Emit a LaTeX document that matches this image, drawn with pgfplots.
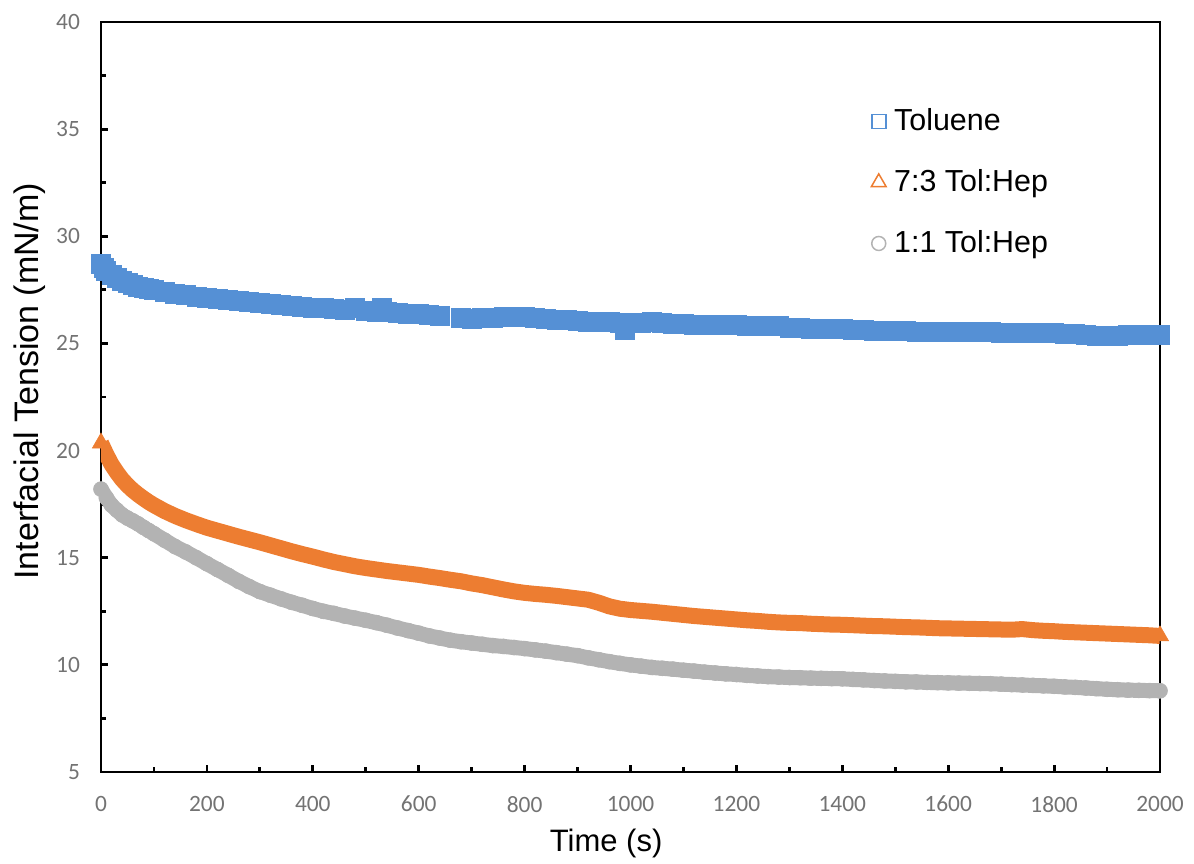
\documentclass[border=0pt]{standalone}
\usepackage{fontspec}
\setmainfont{Liberation Sans}
\newfontfamily\tickfont{Carlito}
\usepackage{pgfplots}
\usepackage{pgfplotstable}
\pgfplotsset{compat=1.18}

\definecolor{tolblue}{HTML}{5590D5}
\definecolor{heporange}{HTML}{ED7D31}
\definecolor{hepgray}{HTML}{B3B3B3}
\definecolor{tickgray}{HTML}{737373}

% Interfacial tension (mN/m) against time (s)
\pgfplotstableread{
t ift
0 28.70
5 28.55
10 28.40
20 28.20
30 28.05
40 27.92
50 27.82
60 27.73
70 27.65
80 27.59
90 27.54
100 27.49
120 27.40
140 27.32
160 27.25
180 27.19
200 27.13
220 27.08
240 27.03
260 26.98
280 26.93
300 26.88
320 26.84
340 26.80
360 26.75
380 26.71
400 26.68
420 26.64
440 26.60
460 26.57
480 26.68
500 26.52
520 26.48
530 26.68
540 26.46
560 26.42
580 26.39
600 26.36
620 26.32
640 26.28
680 26.18
700 26.17
720 26.18
740 26.20
760 26.22
780 26.26
800 26.22
820 26.18
840 26.14
860 26.11
880 26.08
900 26.05
920 26.03
940 26.01
960 26.00
980 25.95
990 25.65
1000 25.95
1020 25.98
1040 26.00
1060 25.96
1080 25.93
1100 25.90
1120 25.88
1140 25.88
1160 25.88
1180 25.86
1200 25.85
1220 25.84
1240 25.82
1260 25.81
1280 25.80
1300 25.75
1320 25.72
1340 25.70
1360 25.70
1380 25.68
1400 25.67
1420 25.65
1440 25.63
1460 25.61
1480 25.60
1500 25.58
1520 25.57
1540 25.56
1560 25.55
1580 25.54
1600 25.54
1620 25.53
1640 25.53
1660 25.52
1680 25.52
1700 25.51
1720 25.50
1740 25.50
1760 25.50
1780 25.49
1800 25.48
1820 25.47
1840 25.45
1860 25.40
1880 25.37
1900 25.36
1920 25.37
1940 25.38
1960 25.40
1980 25.39
2000 25.38
}\toluene

\pgfplotstableread{
t ift
0 20.35
10 19.82
20 19.35
30 18.98
40 18.65
50 18.38
60 18.15
70 17.95
80 17.77
90 17.60
100 17.45
120 17.18
140 16.95
160 16.75
180 16.57
200 16.40
220 16.26
240 16.12
260 15.98
280 15.85
300 15.72
320 15.58
340 15.44
360 15.30
380 15.17
400 15.05
420 14.92
440 14.80
460 14.70
480 14.60
500 14.52
520 14.45
540 14.38
560 14.32
580 14.26
600 14.20
620 14.12
640 14.05
660 13.97
680 13.90
700 13.80
720 13.72
740 13.62
760 13.52
780 13.43
800 13.36
820 13.31
840 13.27
860 13.22
880 13.16
900 13.10
920 13.04
940 12.90
960 12.73
980 12.62
1000 12.56
1020 12.52
1040 12.48
1060 12.43
1080 12.38
1100 12.33
1120 12.28
1140 12.24
1160 12.20
1180 12.16
1200 12.12
1220 12.08
1240 12.05
1260 12.01
1280 11.98
1300 11.96
1320 11.95
1340 11.92
1360 11.90
1380 11.88
1400 11.87
1420 11.85
1440 11.83
1460 11.81
1480 11.80
1500 11.78
1520 11.76
1540 11.75
1560 11.73
1580 11.71
1600 11.70
1620 11.69
1640 11.68
1660 11.67
1680 11.66
1700 11.65
1720 11.64
1740 11.67
1760 11.62
1780 11.59
1800 11.57
1820 11.54
1840 11.52
1860 11.50
1880 11.48
1900 11.46
1920 11.44
1940 11.42
1960 11.40
1980 11.38
2000 11.35
}\seventhree

\pgfplotstableread{
t ift
0 18.20
10 17.80
20 17.45
30 17.22
40 17.00
50 16.85
60 16.72
70 16.58
80 16.42
90 16.27
100 16.12
120 15.82
140 15.52
160 15.27
180 15.00
200 14.72
220 14.45
240 14.18
260 13.90
280 13.65
300 13.42
320 13.25
340 13.08
360 12.92
380 12.78
400 12.63
420 12.50
440 12.40
460 12.28
480 12.18
500 12.08
520 11.97
540 11.85
560 11.72
580 11.60
600 11.48
620 11.35
640 11.25
660 11.15
680 11.08
700 11.02
720 10.96
740 10.90
760 10.86
780 10.81
800 10.76
820 10.70
840 10.64
860 10.57
880 10.50
900 10.43
920 10.33
940 10.24
960 10.15
980 10.07
1000 10.00
1020 9.94
1040 9.88
1060 9.84
1080 9.80
1100 9.75
1120 9.71
1140 9.66
1160 9.62
1180 9.58
1200 9.55
1220 9.51
1240 9.48
1260 9.45
1280 9.43
1300 9.41
1320 9.40
1340 9.38
1360 9.37
1380 9.36
1400 9.35
1420 9.32
1440 9.30
1460 9.27
1480 9.25
1500 9.23
1520 9.21
1540 9.20
1560 9.18
1580 9.17
1600 9.16
1620 9.15
1640 9.14
1660 9.13
1680 9.12
1700 9.10
1720 9.08
1740 9.06
1760 9.04
1780 9.02
1800 9.00
1820 8.97
1840 8.95
1860 8.92
1880 8.89
1900 8.86
1920 8.84
1940 8.82
1960 8.81
1980 8.80
2000 8.79
}\oneone

\begin{document}
\begin{tikzpicture}
\useasboundingbox (-50.5pt,-45.5pt) rectangle (546.5pt,386pt);
\begin{axis}[
  scale only axis,
  width=529.5pt, height=375pt,
  xmin=0, xmax=2000, ymin=5, ymax=40,
  xtick={0,200,...,2000},
  ytick={5,10,...,40},
  minor x tick num=1,
  minor y tick num=1,
  xtick pos=bottom, ytick pos=left,
  tick align=inside,
  major tick length=3.5pt,
  minor tick length=2.5pt,
  every tick/.style={black, line width=1.4pt},
  axis line style={black, line width=1.4pt},
  /pgf/number format/assume math mode=true,
  /pgf/number format/1000 sep={},
  ticklabel style={font=\tickfont\fontsize{11.7}{14}\selectfont, text=tickgray},
  xticklabel style={yshift=-8.5pt},
  yticklabel style={xshift=-7pt},
  xlabel={Time (s)},
  ylabel={Interfacial Tension (mN/m)},
  xlabel style={font=\fontsize{15.5}{18}\selectfont, text=black,
    at={(axis description cs:0.477,-0.0947)}, anchor=center},
  ylabel style={font=\fontsize{17}{20}\selectfont, text=black,
    at={(axis description cs:-0.067,0.521)}, anchor=center},
  legend cell align=left,
  legend image code/.code={\draw[#1] plot coordinates {(0pt,0pt)};},
  legend style={draw=none, fill=none, inner sep=0pt, row sep=14pt,
    column sep=2pt,
    font=\fontsize{15.2}{18}\selectfont,
    at={(rel axis cs:0.727,0.890)}, anchor=north west},
]
% Toluene: dense square markers
\addplot[only marks, forget plot, tolblue, mark=square*, mark size=4.75pt,
  mark options={fill=tolblue, draw=tolblue, line width=0.3pt}]
  table[x=t, y=ift] {\toluene};
% 7:3 Tol:Hep: dense triangle markers merge into a band
\addplot[forget plot, heporange, line width=8pt, line join=round, no marks]
  table[x=t, y=ift] {\seventhree};
\addplot[only marks, forget plot, heporange, mark=triangle*, mark size=5pt,
  mark options={fill=heporange, draw=heporange, line width=0.3pt}]
  coordinates {(0,20.35) (2000,11.35)};
% 1:1 Tol:Hep: dense circle markers merge into a band
\addplot[forget plot, hepgray, line width=7.5pt, line join=round, line cap=round,
  mark=*, mark size=3.75pt, mark options={fill=hepgray, draw=hepgray, line width=0.3pt}]
  table[x=t, y=ift] {\oneone};

\addlegendimage{only marks, mark=square, mark size=3.5pt, tolblue, line width=0.75pt}
\addlegendimage{only marks, mark=triangle, mark size=4.3pt, heporange, line width=0.75pt}
\addlegendimage{only marks, mark=o, mark size=3.5pt, hepgray, line width=0.75pt}
\legend{Toluene, 7:3 Tol:Hep, 1:1 Tol:Hep}
\end{axis}
\end{tikzpicture}
\end{document}
